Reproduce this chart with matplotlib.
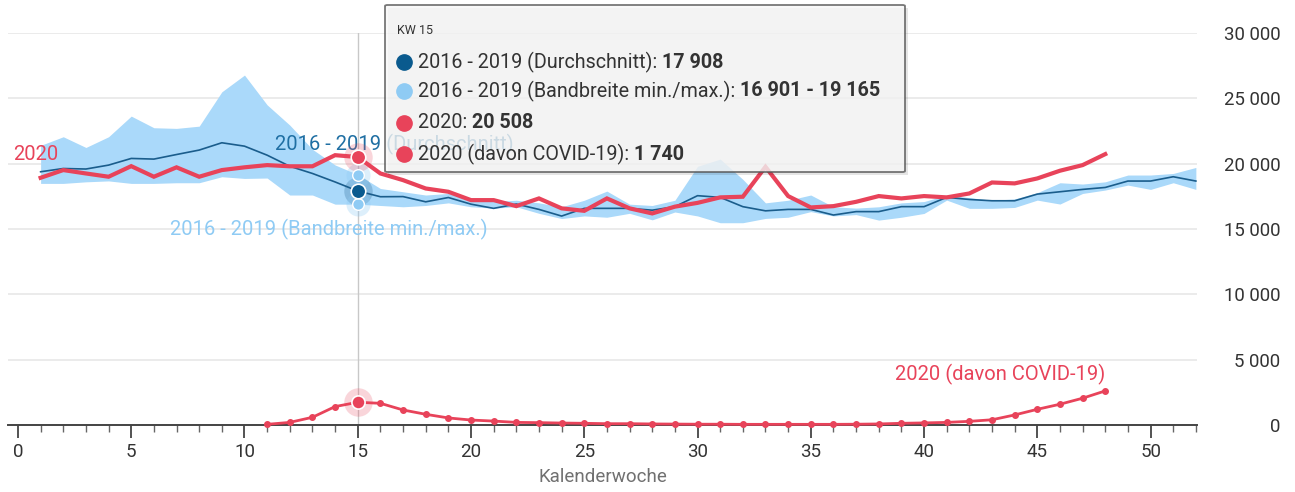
import numpy as np
import matplotlib
matplotlib.use("Agg")
import matplotlib.pyplot as plt
from matplotlib.ticker import MultipleLocator, FuncFormatter
from matplotlib.patches import FancyBboxPatch
from matplotlib.text import Annotation

plt.rcParams['font.family'] = ['Roboto', 'DejaVu Sans']

# Kalenderwochen
weeks = np.arange(1, 53)

# 2016 - 2019 Durchschnitt
avg = [19380, 19630, 19590, 19890, 20400, 20350, 20700, 21040, 21600, 21340,
       20650, 19800, 19250, 18600, 17908, 17470, 17480, 17080, 17410, 16900,
       16580, 16910, 16500, 15990, 16580, 16580, 16580, 16440, 16710, 17550,
       17420, 16710, 16390, 16500, 16500, 16070, 16330, 16330, 16710, 16710,
       17420, 17260, 17160, 17160, 17670, 17850, 18030, 18180, 18670, 18670,
       19000, 18670]

# 2016 - 2019 Bandbreite min./max.
band_max = [21400, 22060, 21240, 22060, 23640, 22750, 22700, 22870, 25500, 26780,
            24500, 22950, 21100, 19900, 19165, 18100, 17850, 17600, 17720, 17300,
            17100, 17200, 17000, 16700, 17200, 17900, 16900, 16800, 17200, 19800,
            20350, 18800, 17000, 17200, 17600, 16700, 16600, 16700, 17000, 17100,
            17600, 17400, 17200, 17300, 17780, 18540, 18440, 18610, 19130, 19130,
            19250, 19710]
band_min = [18490, 18490, 18610, 18680, 18490, 18490, 18540, 18540, 19000, 18870,
            18900, 17600, 17600, 16900, 16901, 16800, 16700, 16800, 17000, 16700,
            16600, 16700, 16200, 15800, 16000, 15900, 16200, 15700, 16300, 16000,
            15480, 15480, 15810, 15900, 16330, 16000, 16100, 15680, 15900, 16190,
            17210, 16580, 16580, 16650, 17210, 16910, 17720, 17980, 18360, 18030,
            18540, 18030]

# 2020 (KW 1 - 48)
weeks_2020 = np.arange(1, 49)
deaths_2020 = [18920, 19510, 19250, 19000, 19810, 19000, 19720, 19000, 19510, 19720,
               19890, 19800, 19800, 20650, 20508, 19250, 18740, 18100, 17850, 17210,
               17210, 16750, 17340, 16580, 16390, 17340, 16580, 16190, 16710, 17000,
               17420, 17470, 19760, 17520, 16650, 16750, 17080, 17520, 17340, 17520,
               17420, 17720, 18560, 18490, 18870, 19460, 19890, 20730]

# 2020 davon COVID-19 (KW 11 - 48)
weeks_covid = np.arange(11, 49)
covid = [50, 200, 590, 1410, 1740, 1660, 1150, 820, 540, 380,
         300, 200, 180, 150, 130, 100, 100, 80, 70, 60,
         60, 50, 50, 50, 50, 50, 60, 80, 130, 160,
         200, 280, 400, 770, 1200, 1590, 2050, 2610]

hover_week = 15

RED = '#e8435a'
NAVY = '#1a5d8c'
BAND = '#aad9fa'
LIGHT = '#8fcbf4'
GRID = '#e8e8e8'
TEXT = '#333333'

W, H = 1295, 492
fig = plt.figure(figsize=(W / 100, H / 100), dpi=100)
ax = fig.add_axes([8 / W, 1 - 425 / H, (1197 - 8) / W, (425 - 33) / H])

ax.set_xlim(-0.44, 52.05)
ax.set_ylim(0, 30000)

# Gitter und Achsen
for s in ['top', 'left', 'right']:
    ax.spines[s].set_visible(False)
ax.spines['bottom'].set_color('#444444')
ax.spines['bottom'].set_linewidth(1.4)
ax.yaxis.tick_right()
ax.yaxis.set_major_locator(MultipleLocator(5000))
ax.yaxis.set_major_formatter(FuncFormatter(lambda v, p: f"{int(v):,}".replace(",", " ")))
ax.tick_params(axis='y', length=0, pad=60, labelsize=13.4, labelcolor=TEXT)
for lab in ax.get_yticklabels():
    lab.set_horizontalalignment('right')
ax.grid(axis='y', color=GRID, linewidth=1.2)
ax.set_axisbelow(True)

ax.xaxis.set_major_locator(MultipleLocator(5))
ax.xaxis.set_minor_locator(MultipleLocator(1))
ax.tick_params(axis='x', which='major', length=9, width=1.3, color='#444444',
               labelsize=13.5, labelcolor=TEXT, pad=4)
ax.tick_params(axis='x', which='minor', length=5, width=1, color='#666666')
ax.set_xlabel('Kalenderwoche', fontsize=13.5, color='#707070', labelpad=5)

# Daten
ax.fill_between(weeks, band_min, band_max, color=BAND, linewidth=0, zorder=2)
ax.plot(weeks, avg, color=NAVY, linewidth=1.2, zorder=3)
ax.plot(weeks_2020, deaths_2020, color=RED, linewidth=3, solid_joinstyle='miter', zorder=4)
ax.plot(weeks_covid, covid, color=RED, linewidth=2, marker='o', markersize=4,
        zorder=4, clip_on=False)

# Fadenkreuz KW 15
ax.axvline(hover_week, color='#c8c8c8', linewidth=1, zorder=1)

i = hover_week - 1
ax.scatter([hover_week], [avg[i]], s=420, color=NAVY, alpha=0.25, linewidth=0, zorder=5)
ax.scatter([hover_week] * 2, [band_min[i], band_max[i]], s=300, color=LIGHT, alpha=0.3,
           linewidth=0, zorder=5)
ax.scatter([hover_week] * 2, [band_min[i], band_max[i]], s=70, color=LIGHT,
           edgecolor='white', linewidth=1, zorder=6)
ax.scatter([hover_week], [avg[i]], s=110, color='#0a5a8e', edgecolor='white', linewidth=1.2, zorder=6)
ax.scatter([hover_week], [deaths_2020[i]], s=420, color=RED, alpha=0.22, linewidth=0, zorder=5)
ax.scatter([hover_week], [deaths_2020[i]], s=110, color=RED, edgecolor='white', linewidth=1.2, zorder=6)
j = hover_week - 11
ax.scatter([hover_week], [covid[j]], s=420, color=RED, alpha=0.22, linewidth=0, zorder=5, clip_on=False)
ax.scatter([hover_week], [covid[j]], s=90, color=RED, edgecolor='white', linewidth=1.2, zorder=6, clip_on=False)

# Serienbeschriftungen
ax.text(-0.2, 19950, '2020', color=RED, fontsize=14.5, va='bottom', ha='left')
ax.text(11.35, 21500, '2016 - 2019 (Durchschnitt)', color='#1f6fa3', fontsize=14.5, va='center')
ax.text(6.7, 15000, '2016 - 2019 (Bandbreite min./max.)', color=LIGHT, fontsize=14.5, va='center')
ax.text(48.0, 3900, '2020 (davon COVID-19)', color=RED, fontsize=14.5, va='center', ha='right')

# Tooltip
def fx(px):
    return px / W

def fy(py):
    return 1 - py / H

shadow = FancyBboxPatch((fx(388), fy(175)), fx(905 - 385), fy(5) - fy(172),
                        boxstyle='square,pad=0', transform=fig.transFigure,
                        facecolor='#000000', alpha=0.1, edgecolor='none', zorder=9)
fig.add_artist(shadow)
box = FancyBboxPatch((fx(385), fy(172)), fx(905 - 385), fy(5) - fy(172),
                     boxstyle='round,pad=0,rounding_size=0.002', transform=fig.transFigure,
                     facecolor='#f7f7f7', alpha=0.8, edgecolor='#555555', linewidth=1.3,
                     zorder=10)
fig.add_artist(box)

fig.text(fx(397), fy(30), 'KW 15', fontsize=9, color=TEXT, va='center', zorder=11)

rows = [
    ('#0a5a8e', '2016 - 2019 (Durchschnitt): ', '17 908'),
    (LIGHT, '2016 - 2019 (Bandbreite min./max.): ', '16 901 - 19 165'),
    (RED, '2020: ', '20 508'),
    (RED, '2020 (davon COVID-19): ', '1 740'),
]
row_y = [61, 90, 122, 153]
for (col, label, value), py in zip(rows, row_y):
    fig.add_artist(plt.Line2D([fx(404)], [fy(py + 1)], marker='o', markersize=11,
                              color=col, linewidth=0, transform=fig.transFigure, zorder=11))
    t = fig.text(fx(418), fy(py + 1), label, fontsize=14.2, color=TEXT, va='center', zorder=11)
    fig.add_artist(Annotation(value, xy=(1, 0.5), xycoords=t, va='center', ha='left',
                              fontsize=14.2, fontweight='bold', color=TEXT, zorder=11))

fig.savefig('out.png', dpi=100)
